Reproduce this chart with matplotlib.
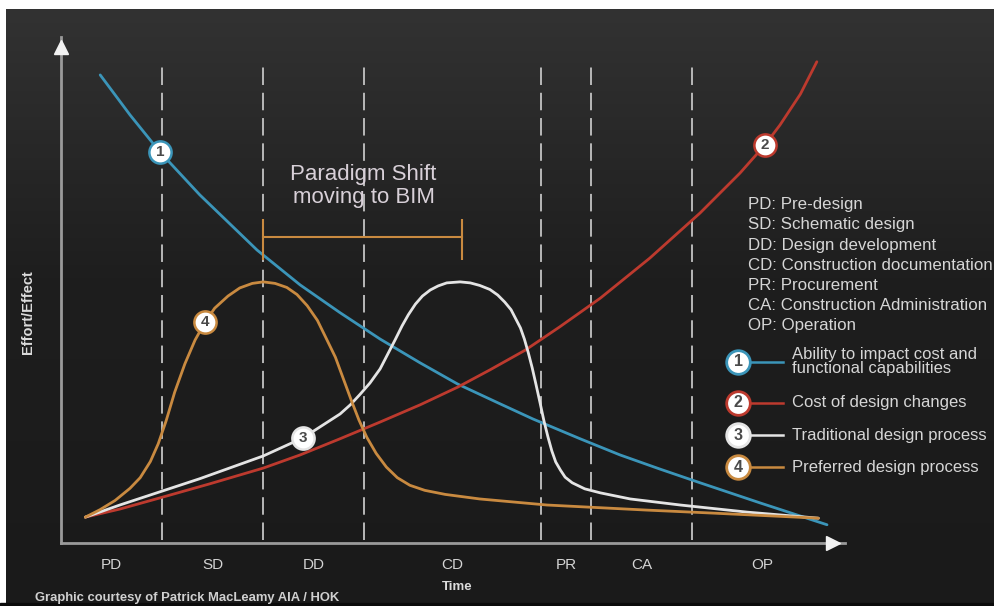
import numpy as np
import matplotlib.pyplot as plt
from matplotlib.colors import LinearSegmentedColormap

plt.rcParams['font.family'] = ['Liberation Sans', 'DejaVu Sans']

## ---------------------------------------------------------------------------------------------
## Data (time 0-100 along x, effort/effect 0-100 along y)
## ---------------------------------------------------------------------------------------------

phase_codes = ['PD', 'SD', 'DD', 'CD', 'PR', 'CA', 'OP']
phase_names = ['Pre-design', 'Schematic design', 'Design development', 'Construction documentation',
               'Procurement', 'Construction Administration', 'Operation']
phase_bounds = [0, 12.9, 25.8, 38.7, 61.2, 67.6, 80.5, 98.5]

# 1: ability to impact cost and functional capabilities
blue_t = [5.0, 8.8, 12.6, 17.7, 25.0, 30.5, 35.6, 40.7, 45.8, 50.6, 56.0, 60.2, 66.2, 71.3, 76.4, 81.5,
          89.2, 97.7]
blue_v = [92.5, 84.6, 77.3, 68.8, 57.9, 51.0, 45.5, 40.3, 35.6, 31.4, 27.5, 24.5, 20.6, 17.4, 14.6, 11.9,
          7.9, 3.6]

# 2: cost of design changes
red_t = [3.1, 7.5, 12.6, 19.0, 25.8, 30.5, 35.6, 40.7, 45.8, 50.6, 54.7, 59.2, 63.6, 68.8, 75.1, 81.5,
         86.6, 89.8, 91.7, 94.3, 96.4]
red_v = [5.1, 6.7, 8.9, 11.7, 14.8, 17.4, 20.6, 23.9, 27.3, 30.8, 34.2, 38.1, 42.7, 48.4, 56.3, 65.2,
         73.1, 78.7, 82.6, 88.7, 95.1]

# 3: traditional design process
white_t = [3.1, 7.5, 12.6, 17.7, 25.8, 30.9, 35.6, 36.9, 38.1, 39.4, 40.7, 41.7, 42.6, 43.5, 44.3, 45.2,
           46.1, 47.1, 48.1, 49.2, 50.9, 52.2, 53.4, 54.7, 55.7, 56.6, 57.4, 58.0, 58.6, 59.1, 59.6, 60.1,
           60.6, 61.1, 61.6, 62.1, 62.6, 63.1, 63.7, 64.3, 65.2, 66.8, 68.8, 72.6, 79.0, 87.5, 96.6]
white_v = [5.1, 7.5, 10.1, 12.7, 17.2, 20.8, 25.5, 27.3, 29.3, 31.6, 34.4, 37.4, 40.1, 42.9, 45.1, 47.2,
           48.8, 50.0, 50.8, 51.4, 51.6, 51.4, 50.9, 50.1, 49.0, 47.6, 46.1, 44.3, 42.5, 40.3, 37.6, 34.6,
           31.2, 27.7, 24.1, 21.0, 18.2, 16.0, 14.4, 13.0, 11.9, 10.7, 9.9, 8.7, 7.5, 6.1, 4.9]

# 4: preferred design process
orange_t = [3.1, 5.0, 6.9, 8.8, 10.1, 11.4, 12.4, 13.4, 14.5, 15.8, 17.1, 18.4, 19.6, 21.3, 22.8, 24.4,
            25.8, 27.3, 28.8, 30.1, 31.4, 32.7, 33.9, 35.0, 36.0, 37.0, 38.0, 39.0, 40.2, 41.5, 42.9, 44.5,
            46.4, 49.0, 53.4, 62.0, 74.7, 83.2, 96.6]
orange_v = [5.1, 6.6, 8.4, 10.8, 12.9, 16.1, 19.6, 24.1, 29.8, 35.4, 40.1, 43.7, 46.4, 48.8, 50.4, 51.3,
            51.6, 51.3, 50.5, 49.1, 46.9, 44.0, 40.2, 36.7, 32.5, 28.3, 24.3, 20.9, 17.7, 15.0, 12.9, 11.4,
            10.4, 9.6, 8.7, 7.5, 6.5, 5.9, 4.9]

curve_labels = ['Ability to impact cost and\nfunctional capabilities', 'Cost of design changes',
                'Traditional design process', 'Preferred design process']
curve_colors = ['#3b95b9', '#bd3a2e', '#e4e4e4', '#c98a40']
# point of each curve that carries its number badge
badge_index = [2, 17, 5, 11]

## ---------------------------------------------------------------------------------------------
## Figure and background
## ---------------------------------------------------------------------------------------------

fig = plt.figure(figsize=(9.95, 6.06), dpi=100)
fig.patch.set_facecolor('white')

bg = fig.add_axes([0, 0, 1, 1])
bg.set_xlim(0, 1)
bg.set_ylim(0, 1)
bg.axis('off')
grad = np.linspace(0, 1, 256).reshape(-1, 1)
cmap_bg = LinearSegmentedColormap.from_list('bg', [(0, '#1a1a1a'), (0.55, '#1e1e1e'), (1, '#323232')])
bg.imshow(grad, cmap=cmap_bg, origin='lower', aspect='auto', extent=[0.006, 1, 0.0, 0.9835])
bg.axhspan(0, 0.005, color='#0b0b0b')

## ---------------------------------------------------------------------------------------------
## Main chart
## ---------------------------------------------------------------------------------------------

ax = fig.add_axes([0.0613, 0.104, 0.788, 0.835])
ax.set_facecolor('none')
ax.set_xlim(0, 100)
ax.set_ylim(0, 100)

for s in ['top', 'right']:
    ax.spines[s].set_visible(False)
for s in ['left', 'bottom']:
    ax.spines[s].set_color('#9a9a9a')
    ax.spines[s].set_linewidth(2)

# arrow heads on the axes
ax.plot(0, 98, marker='^', ms=10, color='#f2f2f2', clip_on=False, zorder=5)
ax.plot(98.5, 0, marker='>', ms=10, color='#f2f2f2', clip_on=False, zorder=5)

# phase boundaries
ax.vlines(phase_bounds[1:-1], 0.6, 95, colors='#b8b8b8', linestyles=(0, (9, 4)), lw=1.4, zorder=1)

# phase labels as ticks
mids = [(phase_bounds[i] + phase_bounds[i + 1]) / 2 for i in range(len(phase_codes))]
ax.set_xticks(mids)
ax.set_xticklabels(phase_codes, color='#d4d4d4', fontsize=11)
ax.tick_params(axis='x', length=0, pad=11)
ax.set_yticks([])

# curves
series = [(blue_t, blue_v), (red_t, red_v), (white_t, white_v), (orange_t, orange_v)]
for (t, v), c in zip(series, curve_colors):
    ax.plot(t, v, color=c, lw=2.0, solid_joinstyle='round', solid_capstyle='round', zorder=3)

# number badges on the curves
for k, ((t, v), c) in enumerate(zip(series, curve_colors)):
    i = badge_index[k]
    ax.plot(t[i], v[i], marker='o', ms=16, mfc='white', mec=c, mew=1.8, zorder=6)
    ax.text(t[i], v[i], str(k + 1), ha='center', va='center', fontsize=11, fontweight='bold',
            color='#4a4a4a', zorder=7)

# paradigm shift bracket
bracket_color = '#c98a40'
ax.plot([phase_bounds[2], 51.2], [60.5, 60.5], color=bracket_color, lw=1.5, zorder=4)
ax.vlines([phase_bounds[2], 51.2], 56, 64, colors=bracket_color, lw=1.5, zorder=4)
ax.text(38.6, 70.6, 'Paradigm Shift\nmoving to BIM', ha='center', va='center', color='#d8d0d8',
        fontsize=16, linespacing=1.15)

## ---------------------------------------------------------------------------------------------
## Texts and legend
## ---------------------------------------------------------------------------------------------

fig.text(0.459, 0.031, 'Time', ha='center', va='center', fontsize=9.5, fontweight='bold', color='#dcdcdc')
fig.text(0.028, 0.485, 'Effort/Effect', rotation=90, ha='center', va='center', fontsize=10.5,
         fontweight='bold', color='#dcdcdc')
fig.text(0.035, 0.013, 'Graphic courtesy of Patrick MacLeamy AIA / HOK', ha='left', va='center',
         fontsize=9.4, fontweight='bold', color='#d0d0d0')

for i, (code, name) in enumerate(zip(phase_codes, phase_names)):
    fig.text(0.752, 0.662 - i * 0.0332, code + ': ' + name, ha='left', va='center', fontsize=12.2,
             color='#d6d6d6')

leg_y = [0.403, 0.335, 0.282, 0.229]
for k, c in enumerate(curve_colors):
    bg.plot([0.752, 0.787], [leg_y[k], leg_y[k]], color=c, lw=1.8, zorder=3)
    bg.plot(0.742, leg_y[k], marker='o', ms=17, mfc='white', mec=c, mew=2, zorder=4)
    bg.text(0.742, leg_y[k], str(k + 1), ha='center', va='center', fontsize=11.5, fontweight='bold',
            color='#4a4a4a', zorder=5)
    bg.text(0.796, leg_y[k], curve_labels[k], ha='left', va='center', fontsize=12, color='#d6d6d6',
            linespacing=0.9)

plt.savefig('out.png', dpi=100, facecolor=fig.get_facecolor())
